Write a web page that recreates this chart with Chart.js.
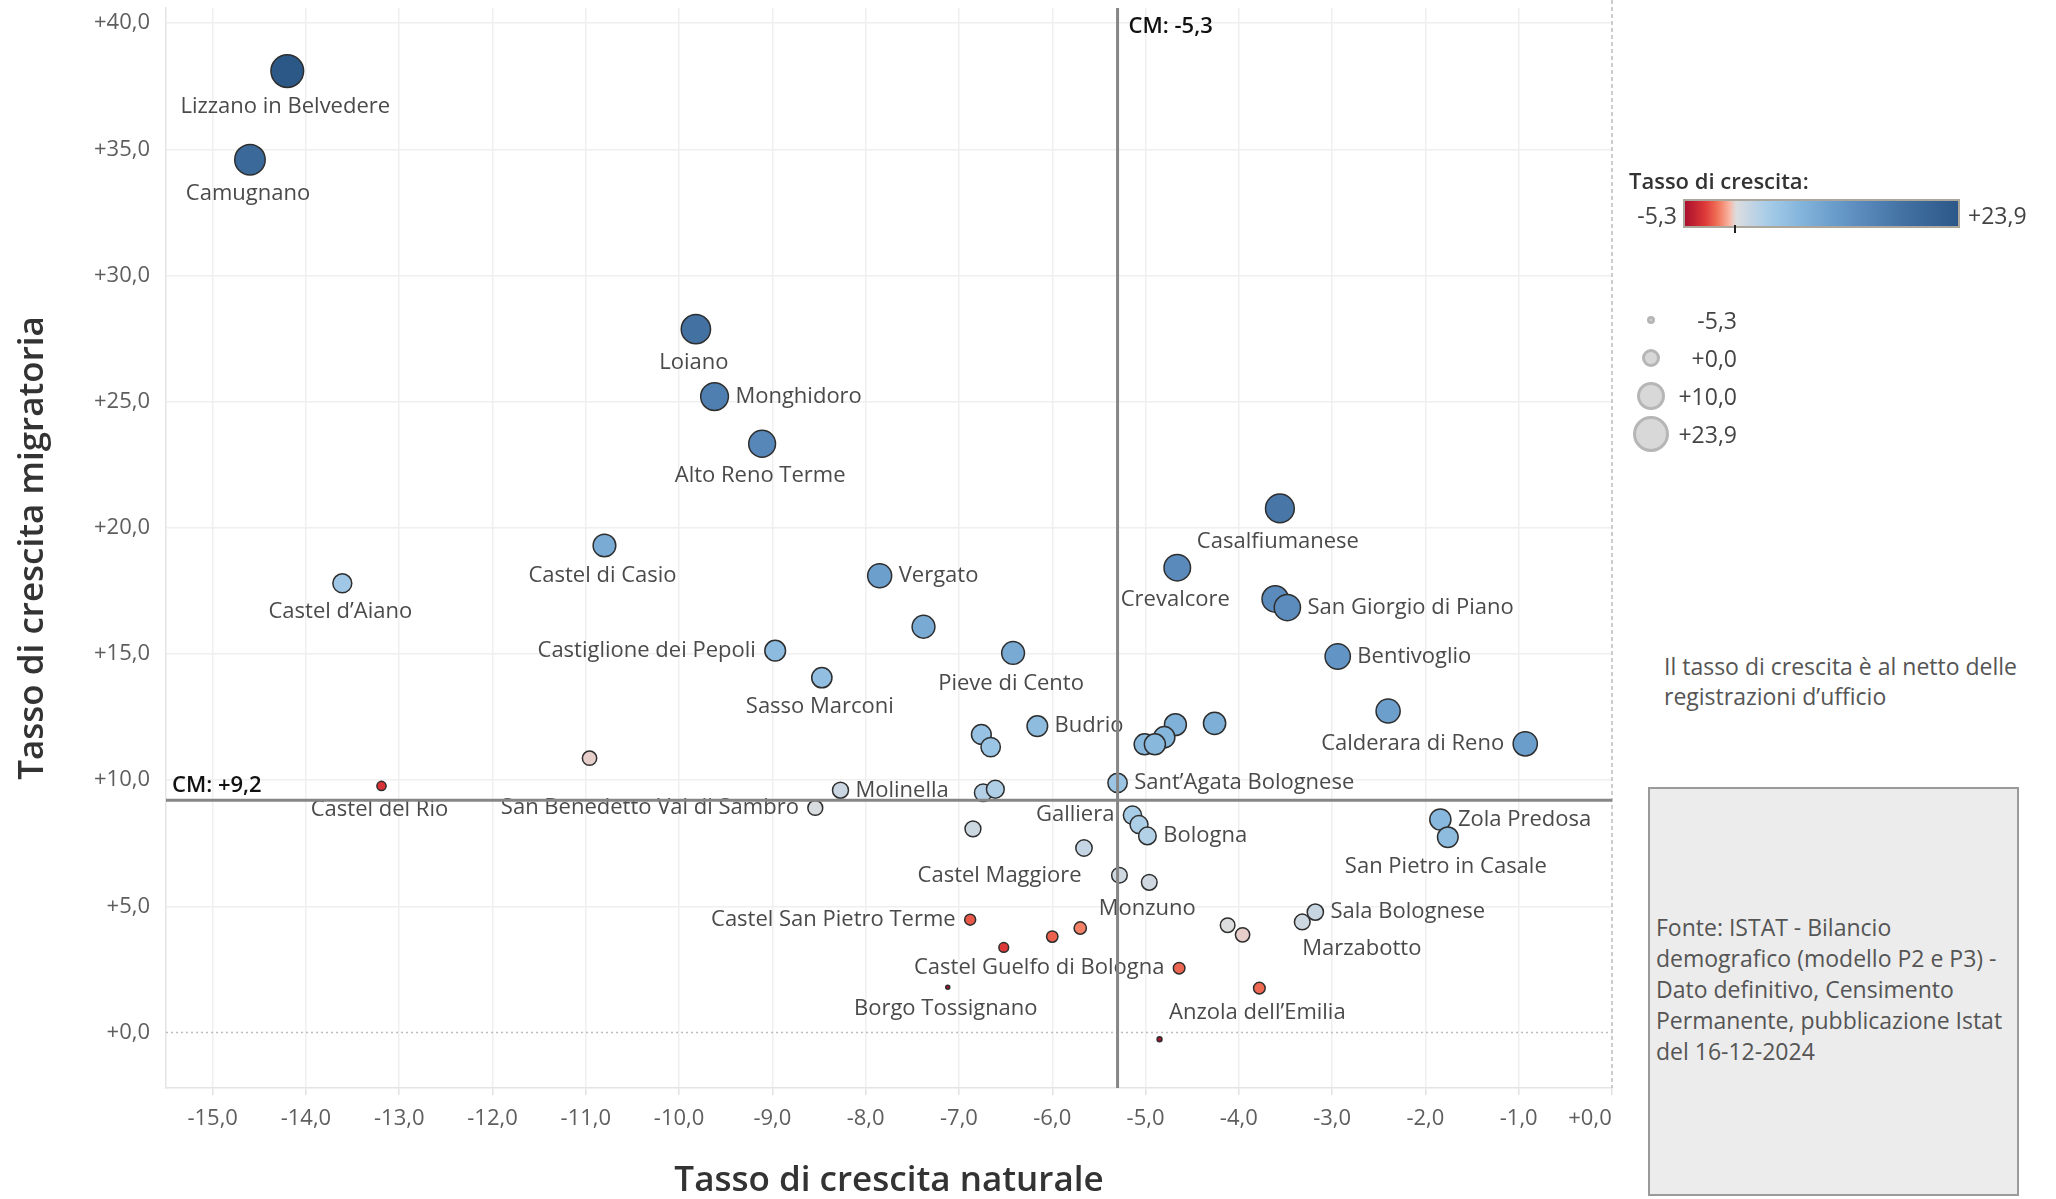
<!DOCTYPE html>
<html lang="it">
<head>
<meta charset="utf-8">
<title>Tasso di crescita naturale e migratoria</title>
<script src="https://cdn.jsdelivr.net/npm/chart.js@4.4.1/dist/chart.umd.min.js"></script>
<style>
  html, body { margin: 0; padding: 0; background: #fff; }
  body { width: 2056px; height: 1199px; position: relative; overflow: hidden; font-family: 'Open Sans', sans-serif; }
  #contenitore { position: absolute; left: 0; top: 0; width: 1640px; height: 1199px; }
  .txt { position: absolute; white-space: nowrap; color: #444; font-family: 'Open Sans', sans-serif; }
  #leg-titolo { left: 1629px; top: 165px; font-size: 22px; line-height: 30px; font-weight: 600; color: #333; }
  #barra { position: absolute; left: 1683px; top: 199px; width: 277px; height: 29px; box-sizing: border-box; border: 2px solid #aba79c; }
  #tacca { position: absolute; left: 1734px; top: 225px; width: 2px; height: 8px; background: #222; }
  .num { font-size: 23px; line-height: 30px; }
  .cerchio { position: absolute; box-sizing: border-box; border-radius: 50%; border: 3px solid #b6b6b6; background: #d8d8d8; }
  #nota { left: 1664px; top: 651px; font-size: 23px; line-height: 30px; color: #555; }
  #fonte { position: absolute; left: 1648px; top: 787px; width: 371px; height: 409px; box-sizing: border-box;
           background: #ececec; border: 2px solid #9a9a9a; }
  #fonte-testo { left: 1656px; top: 912px; font-size: 23px; line-height: 31px; color: #555; }
</style>
</head>
<body>
<div id="contenitore"><canvas id="grafico"></canvas></div>

<div class="txt" id="leg-titolo">Tasso di crescita:</div>
<div id="barra"></div>
<div id="tacca"></div>
<div id="legenda"></div>

<div class="txt" id="nota">Il tasso di crescita è al netto delle<br>registrazioni d’ufficio</div>
<div id="fonte"></div>
<div class="txt" id="fonte-testo">Fonte: ISTAT - Bilancio<br>demografico (modello P2 e P3) -<br>Dato definitivo, Censimento<br>Permanente, pubblicazione Istat<br>del 16-12-2024</div>

<script>
// comuni della Città metropolitana di Bologna (etichetta vuota = non etichettato nel grafico)
const comuni = [
  'Lizzano in Belvedere', 'Camugnano', 'Loiano', 'Monghidoro', 'Alto Reno Terme',
  'Castel di Casio', 'Castel d’Aiano', 'Vergato', 'Castiglione dei Pepoli', 'Sasso Marconi',
  '', 'Pieve di Cento', 'Budrio', '', '',
  '', '', '', '', '',
  'Casalfiumanese', 'Crevalcore', '', 'San Giorgio di Piano', 'Bentivoglio',
  '', 'Calderara di Reno', 'Sant’Agata Bolognese', 'Molinella', '',
  '', '', 'Castel del Rio', 'San Benedetto Val di Sambro', '',
  'Galliera', '', 'Bologna', '', 'Castel Maggiore',
  'Monzuno', 'Zola Predosa', 'San Pietro in Casale', 'Sala Bolognese', 'Marzabotto',
  '', '', 'Castel San Pietro Terme', '', '',
  '', 'Castel Guelfo di Bologna', 'Anzola dell’Emilia', 'Borgo Tossignano', ''
];

const crescitaNaturale = [
  -14.20, -14.60, -9.82, -9.62, -9.11,
  -10.80, -13.61, -7.85, -8.97, -8.47,
  -7.38, -6.42, -6.16, -6.76, -6.66,
  -4.68, -4.26, -4.80, -5.01, -4.90,
  -3.56, -4.66, -3.61, -3.48, -2.94,
  -2.40, -0.93, -5.30, -8.27, -6.74,
  -6.61, -10.96, -13.19, -8.54, -6.85,
  -5.14, -5.07, -4.98, -5.66, -5.28,
  -4.96, -1.84, -1.76, -3.18, -3.32,
  -4.12, -3.96, -6.88, -5.70, -6.00,
  -6.52, -4.64, -3.78, -7.12, -4.85
];

const crescitaMigratoria = [
  38.10, 34.59, 27.87, 25.20, 23.33,
  19.30, 17.80, 18.10, 15.13, 14.06,
  16.08, 15.04, 12.14, 11.81, 11.31,
  12.20, 12.25, 11.70, 11.42, 11.42,
  20.77, 18.42, 17.18, 16.84, 14.90,
  12.74, 11.44, 9.89, 9.60, 9.50,
  9.64, 10.87, 9.77, 8.90, 8.07,
  8.61, 8.24, 7.79, 7.31, 6.23,
  5.95, 8.44, 7.74, 4.77, 4.38,
  4.25, 3.87, 4.47, 4.14, 3.80,
  3.37, 2.55, 1.76, 1.79, -0.27
];

const tickNaturale = [-15, -14, -13, -12, -11, -10, -9, -8, -7, -6, -5, -4, -3, -2, -1, 0];
const tickMigratoria = [0, 5, 10, 15, 20, 25, 30, 35, 40];

const mediaNaturale = -5.3;   // CM
const mediaMigratoria = 9.2;  // CM

const legendaColori = [-5.3, 23.9];
const legendaDimensioni = [-5.3, 0, 10, 23.9];

// tasso di crescita = naturale + migratorio
const crescitaTotale = crescitaNaturale.map((n, i) => n + crescitaMigratoria[i]);

// dove mettere le etichette: b = sotto, r = destra, l = sinistra, bs = sotto allineata a sinistra
const posizioneEtichette = {
  'Lizzano in Belvedere': ['b'], 'Camugnano': ['b'], 'Loiano': ['b'], 'Monghidoro': ['r'],
  'Alto Reno Terme': ['b'], 'Castel di Casio': ['b'], 'Castel d’Aiano': ['b'], 'Vergato': ['r'],
  'Castiglione dei Pepoli': ['l'], 'Sasso Marconi': ['b'], 'Pieve di Cento': ['b'], 'Budrio': ['r'],
  'Casalfiumanese': ['b'], 'Crevalcore': ['b'], 'San Giorgio di Piano': ['r'], 'Bentivoglio': ['r'],
  'Calderara di Reno': ['l'], 'Sant’Agata Bolognese': ['r'], 'Molinella': ['r'], 'Castel del Rio': ['b'],
  'San Benedetto Val di Sambro': ['l'], 'Galliera': ['l'], 'Bologna': ['r'], 'Castel Maggiore': ['l', -21, 0],
  'Monzuno': ['b'], 'Zola Predosa': ['r'], 'San Pietro in Casale': ['b'], 'Sala Bolognese': ['r'],
  'Marzabotto': ['bs'], 'Castel San Pietro Terme': ['l'], 'Castel Guelfo di Bologna': ['l'],
  'Anzola dell’Emilia': ['b'], 'Borgo Tossignano': ['b']
};

const fmt = v => (v >= 0 ? '+' : '') + v.toFixed(1).replace('.', ',');

// scala divergente rosso-blu centrata sullo zero
const scalaNegativa = [[0, [226, 212, 210]], [0.1, [249, 182, 162]], [0.35, [240, 112, 86]], [0.6, [221, 56, 56]], [1, [170, 16, 46]]];
const scalaPositiva = [[0, [222, 222, 222]], [0.06, [200, 214, 226]], [0.15, [166, 204, 232]], [0.3, [130, 180, 219]],
                       [0.5, [98, 148, 197]], [0.75, [67, 114, 163]], [1, [44, 88, 136]]];

function coloreCrescita(v) {
  const scala = v < 0 ? scalaNegativa : scalaPositiva;
  const t = Math.max(0, Math.min(1, v < 0 ? v / legendaColori[0] : v / legendaColori[1]));
  for (let k = 1; k < scala.length; k++) {
    if (t <= scala[k][0]) {
      const [t0, c0] = scala[k - 1], [t1, c1] = scala[k];
      const f = (t - t0) / (t1 - t0);
      const c = c0.map((a, j) => Math.round(a + (c1[j] - a) * f));
      return `rgb(${c[0]},${c[1]},${c[2]})`;
    }
  }
  const c = scala[scala.length - 1][1];
  return `rgb(${c[0]},${c[1]},${c[2]})`;
}

// area del cerchio lineare col tasso di crescita
const raggio = v => Math.sqrt(Math.max(52 + 9 * v, 3));

const punti = crescitaNaturale.map((x, i) => ({ x: x, y: crescitaMigratoria[i] }));
const raggi = crescitaTotale.map(v => raggio(v));
const colori = crescitaTotale.map(coloreCrescita);

const decorazioni = {
  id: 'decorazioni',
  beforeDatasetsDraw(chart) {
    const { ctx, chartArea: a, scales: { x, y } } = chart;
    ctx.save();
    ctx.strokeStyle = '#bdbdbd';
    ctx.lineWidth = 1.5;
    ctx.setLineDash([2, 3]);
    const y0 = y.getPixelForValue(0);
    ctx.beginPath(); ctx.moveTo(a.left, y0); ctx.lineTo(a.right, y0); ctx.stroke();
    ctx.setLineDash([4, 3]);
    const x0 = x.getPixelForValue(0);
    ctx.beginPath(); ctx.moveTo(x0, 0); ctx.lineTo(x0, a.bottom); ctx.stroke();
    ctx.restore();
  },
  afterDatasetsDraw(chart) {
    const { ctx, chartArea: a, scales: { x, y } } = chart;
    const meta = chart.getDatasetMeta(0);
    ctx.save();
    ctx.font = '22px "Open Sans"';
    ctx.fillStyle = '#4a4a4a';
    ctx.textBaseline = 'middle';
    meta.data.forEach((el, i) => {
      const nome = comuni[i];
      if (!nome) return;
      const p = posizioneEtichette[nome] || ['b'];
      const r = raggi[i];
      let tx = el.x + (p[1] || 0), ty = el.y + (p[2] || 0), allinea = 'center';
      if (p[0] === 'b') { tx -= 2; ty += r + 19; }
      else if (p[0] === 'bs') { allinea = 'left'; ty += r + 19; }
      else if (p[0] === 'r') { allinea = 'left'; tx += r + 7; }
      else { allinea = 'right'; tx -= r + 9; }
      ctx.textAlign = allinea;
      ctx.fillText(nome, tx, ty);
    });

    // linee delle medie (CM)
    const xm = x.getPixelForValue(mediaNaturale);
    const ym = y.getPixelForValue(mediaMigratoria);
    ctx.strokeStyle = '#868686';
    ctx.lineWidth = 3;
    ctx.beginPath(); ctx.moveTo(xm, a.top); ctx.lineTo(xm, a.bottom); ctx.stroke();
    ctx.beginPath(); ctx.moveTo(a.left, ym); ctx.lineTo(a.right, ym); ctx.stroke();

    ctx.font = '600 22px "Open Sans"';
    ctx.fillStyle = '#111';
    ctx.textAlign = 'left';
    ctx.fillText('CM: ' + fmt(mediaNaturale), xm + 11, a.top + 19);
    ctx.fillText('CM: ' + fmt(mediaMigratoria), a.left + 6, ym - 15);
    ctx.restore();
  }
};

Chart.defaults.font.family = '"Open Sans", sans-serif';

new Chart(document.getElementById('grafico'), {
  type: 'scatter',
  data: {
    datasets: [{
      label: 'Comuni',
      data: punti,
      pointRadius: raggi,
      pointHoverRadius: raggi,
      pointBackgroundColor: colori,
      pointBorderColor: '#2e2e2e',
      pointBorderWidth: 1.5
    }]
  },
  options: {
    responsive: true,
    maintainAspectRatio: false,
    animation: false,
    layout: { autoPadding: false, padding: { top: 8, right: 28, bottom: 0, left: 0 } },
    plugins: {
      legend: { display: false },
      tooltip: {
        callbacks: {
          label: (c) => `${comuni[c.dataIndex] || ''} naturale ${fmt(c.parsed.x)}, migratoria ${fmt(c.parsed.y)}`
        }
      }
    },
    scales: {
      x: {
        type: 'linear',
        min: -15.5,
        max: 0,
        afterBuildTicks: s => { s.ticks = tickNaturale.map(v => ({ value: v })); },
        afterFit: s => { s.height = 111; s.paddingLeft = 0; s.paddingRight = 0; },
        grid: {
          color: c => (c.tick && c.tick.value === 0) ? 'rgba(0,0,0,0)' : '#efefef',
          lineWidth: 1.5,
          tickLength: 7,
          tickColor: '#e2e2e2'
        },
        border: { color: '#e4e4e4', width: 1.5 },
        ticks: {
          padding: 11,
          color: '#5e5e5e',
          font: { size: 22 },
          maxRotation: 0,
          autoSkip: false,
          // l'ultima etichetta resta dentro il riquadro, come nell'originale
          callback: v => v === 0 ? fmt(v) + '\u2003\u2003' : fmt(v)
        },
        title: {
          display: true,
          text: 'Tasso di crescita naturale',
          color: '#333',
          font: { size: 35, weight: '600', lineHeight: 1 },
          padding: { top: 0, bottom: 0 }
        }
      },
      y: {
        type: 'linear',
        min: -2.2,
        max: 40.6,
        afterBuildTicks: s => { s.ticks = tickMigratoria.map(v => ({ value: v })); },
        afterFit: s => { s.width = 166; s.paddingTop = 0; s.paddingBottom = 0; },
        grid: {
          color: c => (c.tick && c.tick.value === 0) ? 'rgba(0,0,0,0)' : '#efefef',
          lineWidth: 1.5,
          drawTicks: false
        },
        border: { color: '#e4e4e4', width: 1.5 },
        ticks: {
          padding: 16,
          color: '#5e5e5e',
          font: { size: 22 },
          callback: v => fmt(v)
        },
        title: {
          display: true,
          text: 'Tasso di crescita migratoria',
          color: '#333',
          font: { size: 35, weight: '600', lineHeight: 1 },
          padding: { top: 16, bottom: 0 }
        }
      }
    }
  },
  plugins: [decorazioni]
});

// legenda colore e dimensione (HTML)
(function costruisciLegenda() {
  const barra = document.getElementById('barra');
  const passi = [];
  const n = 80;
  for (let k = 0; k <= n; k++) {
    const v = legendaColori[0] + (legendaColori[1] - legendaColori[0]) * k / n;
    passi.push(`${coloreCrescita(v)} ${(k / n * 100).toFixed(2)}%`);
  }
  barra.style.background = `linear-gradient(to right, ${passi.join(', ')})`;

  const leg = document.getElementById('legenda');
  const minEl = document.createElement('div');
  minEl.className = 'txt num';
  minEl.style.cssText = 'left:1597px; top:200px; width:80px; text-align:right;';
  minEl.textContent = fmt(legendaColori[0]);
  leg.appendChild(minEl);
  const maxEl = document.createElement('div');
  maxEl.className = 'txt num';
  maxEl.style.cssText = 'left:1968px; top:200px;';
  maxEl.textContent = fmt(legendaColori[1]);
  leg.appendChild(maxEl);

  const yCentri = [320, 358, 396, 434];
  legendaDimensioni.forEach((v, i) => {
    const r = raggio(v) + 2;
    const c = document.createElement('div');
    c.className = 'cerchio';
    c.style.left = (1651 - r) + 'px';
    c.style.top = (yCentri[i] - r) + 'px';
    c.style.width = (2 * r) + 'px';
    c.style.height = (2 * r) + 'px';
    leg.appendChild(c);
    const t = document.createElement('div');
    t.className = 'txt num';
    t.style.cssText = `left:1657px; top:${yCentri[i] - 15}px; width:80px; text-align:right;`;
    t.textContent = fmt(v);
    leg.appendChild(t);
  });
})();
</script>
</body>
</html>
